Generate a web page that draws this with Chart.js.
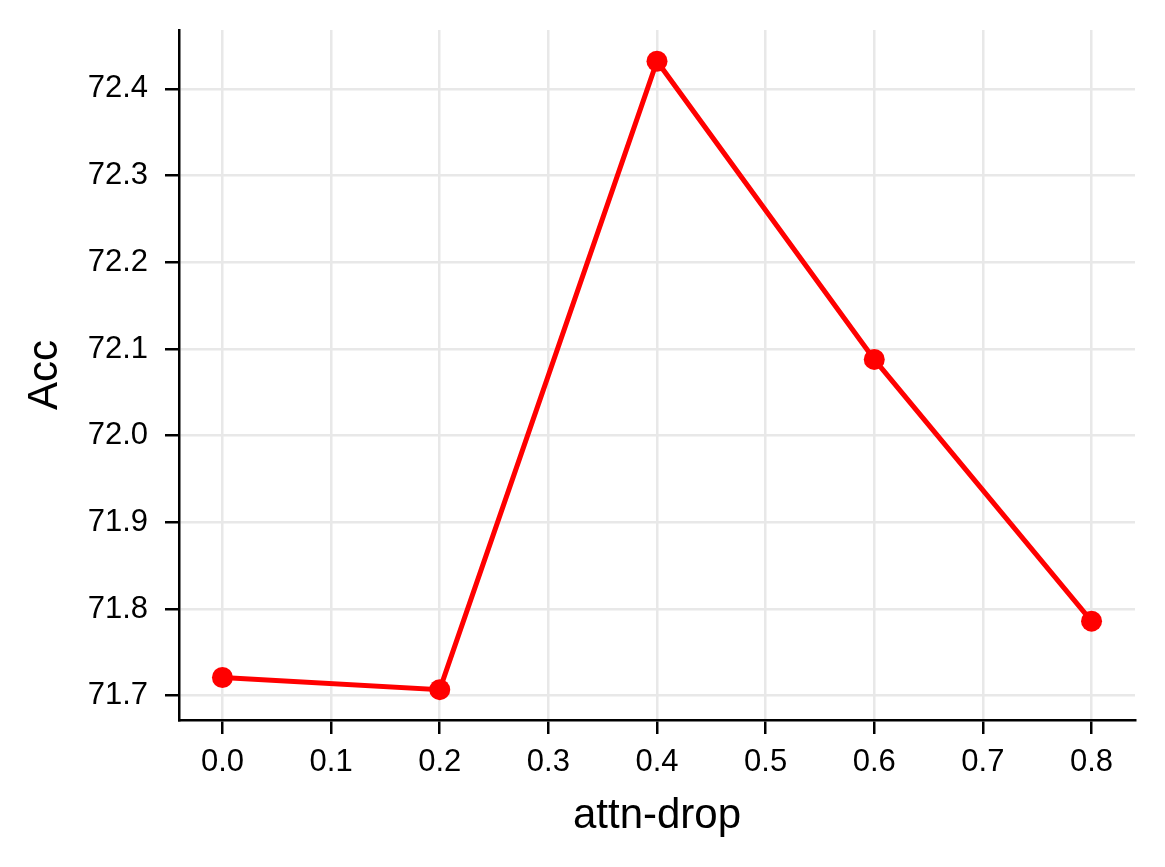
<!DOCTYPE html>
<html lang="en">
<head>
    <meta charset="UTF-8">
    <title>attn-drop vs Acc</title>
    <script src="https://cdn.jsdelivr.net/npm/chart.js"></script>
    <style>
        html, body { margin: 0; padding: 0; background: #fff; }
        #wrap { width: 1165px; height: 867px; }
    </style>
</head>
<body>
    <div id="wrap"><canvas id="lineChart" width="1165" height="867"></canvas></div>
    <script>
        // data
        const attnDrop = [0.0, 0.2, 0.4, 0.6, 0.8];
        const acc = [71.721, 71.707, 72.432, 72.088, 71.786];
        const xTicks = [0.0, 0.1, 0.2, 0.3, 0.4, 0.5, 0.6, 0.7, 0.8];
        const yTicks = [71.7, 71.8, 71.9, 72.0, 72.1, 72.2, 72.3, 72.4];

        const font = 'Liberation Sans';
        const gridCol = '#e8e8e8';

        new Chart(document.getElementById('lineChart'), {
            type: 'line',
            data: {
                datasets: [{
                    data: attnDrop.map((x, i) => ({ x: x, y: acc[i] })),
                    borderColor: '#ff0000',
                    backgroundColor: '#ff0000',
                    borderWidth: 5,
                    pointRadius: 10.5,
                    pointBorderWidth: 0,
                    pointBackgroundColor: '#ff0000',
                    tension: 0
                }]
            },
            options: {
                responsive: false,
                animation: false,
                layout: { padding: { left: 0, top: 30, right: 30, bottom: 0 } },
                plugins: { legend: { display: false }, tooltip: { enabled: false } },
                scales: {
                    x: {
                        type: 'linear',
                        min: -0.04,
                        max: 0.84,
                        afterBuildTicks: s => { s.ticks = xTicks.map(v => ({ value: v })); },
                        afterFit: s => { s.height = 147; },
                        grid: { color: gridCol, lineWidth: 2.5, tickColor: '#000', tickLength: 14, tickWidth: 2.5 },
                        border: { display: true, color: '#000', width: 2.5 },
                        ticks: {
                            color: '#000', padding: 10, maxRotation: 0,
                            font: { family: font, size: 31 },
                            callback: v => v.toFixed(1)
                        },
                        title: {
                            display: true, text: 'attn-drop', color: '#000',
                            font: { family: font, size: 42 },
                            padding: { top: 0, bottom: 25 }
                        }
                    },
                    y: {
                        type: 'linear',
                        min: 71.672,
                        max: 72.468,
                        afterBuildTicks: s => { s.ticks = yTicks.map(v => ({ value: v })); },
                        afterFit: s => {
                            s.width = 179;
                            // label overhang should not push the plot area down
                            s.paddingTop = 0;
                            s.paddingBottom = 0;
                        },
                        grid: { color: gridCol, lineWidth: 2.5, tickColor: '#000', tickLength: 14, tickWidth: 2.5 },
                        border: { display: true, color: '#000', width: 2.5 },
                        ticks: {
                            color: '#000', padding: 17,
                            font: { family: font, size: 31 },
                            callback: v => v.toFixed(1)
                        },
                        title: {
                            display: true, text: 'Acc', color: '#000',
                            font: { family: font, size: 42 },
                            padding: { top: 20, bottom: 0 }
                        }
                    }
                }
            }
        });
    </script>
</body>
</html>
